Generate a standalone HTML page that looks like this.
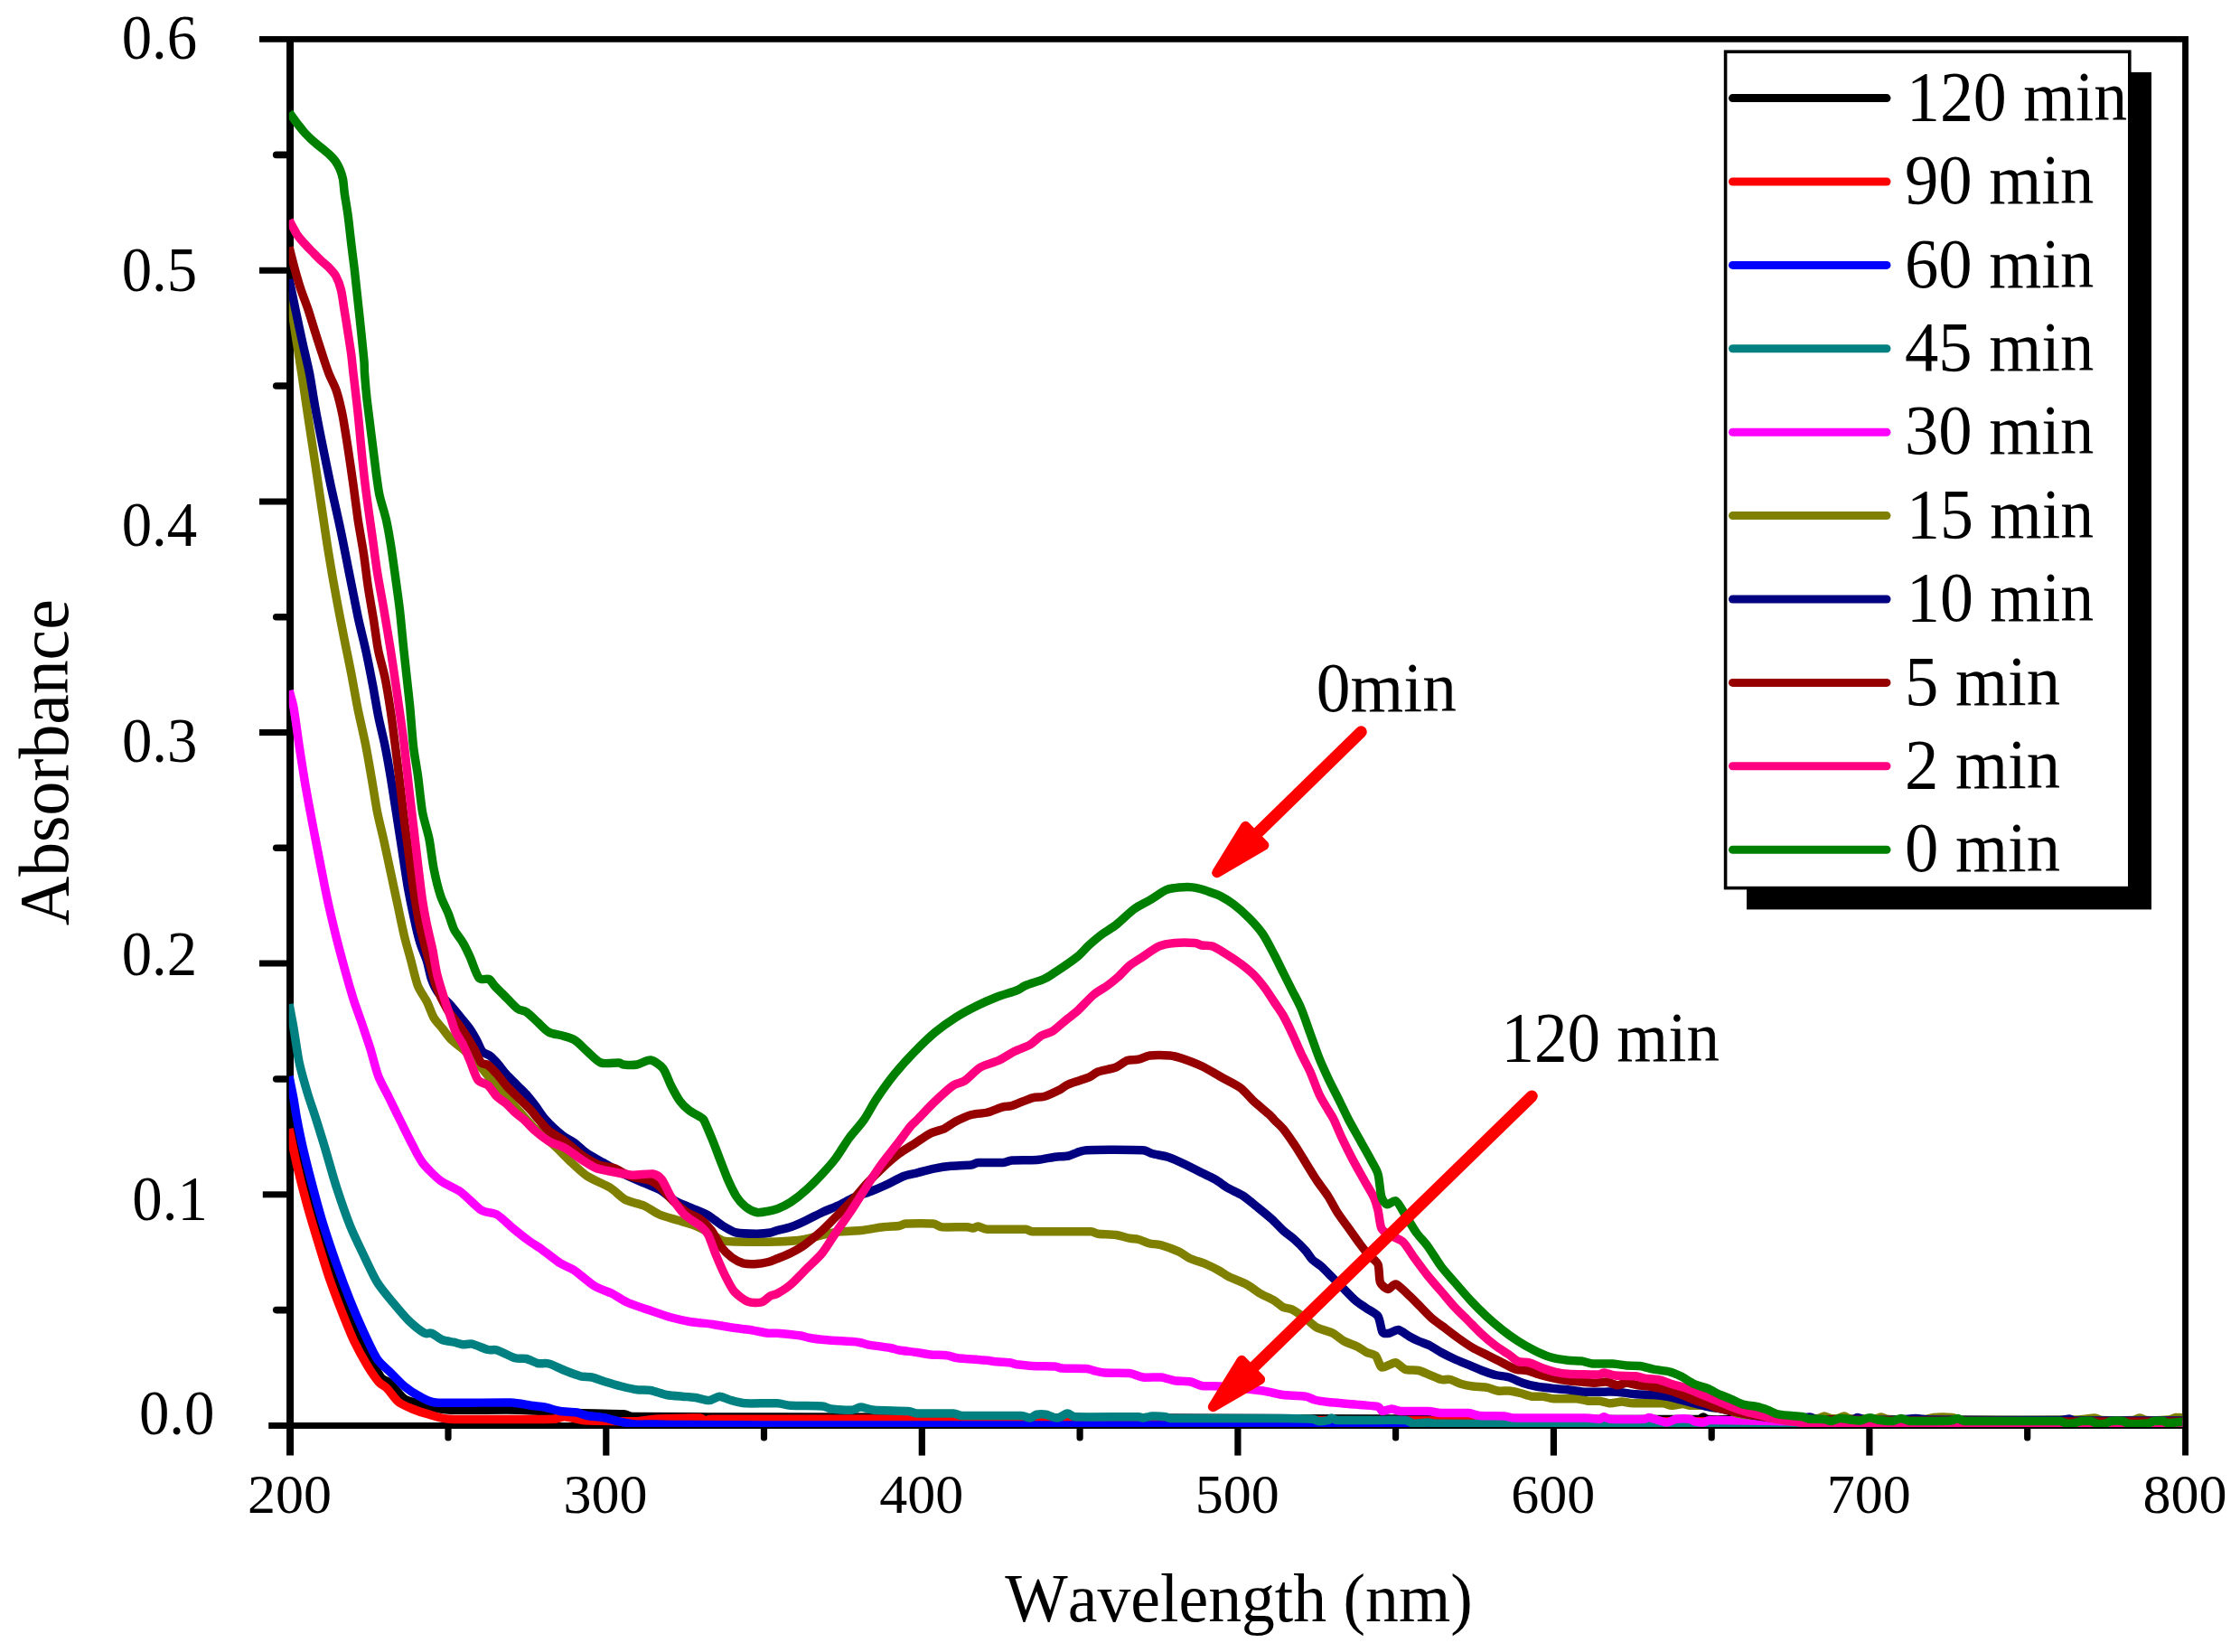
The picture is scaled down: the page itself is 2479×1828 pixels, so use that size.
<!DOCTYPE html>
<html lang="en"><head><meta charset="utf-8"><title>UV-Vis absorbance spectra</title>
<style>
html,body{margin:0;padding:0;background:#fff;}
body{width:2479px;height:1828px;overflow:hidden;}
svg{display:block;}
text{font-family:"Liberation Serif","Times New Roman",serif;fill:#000;font-kerning:none;}
.ax{stroke:#000;stroke-width:7.4;stroke-linecap:round;fill:none;}
.c{fill:none;stroke-width:9.5;stroke-linejoin:round;stroke-linecap:butt;}
.lg{fill:none;stroke-width:9;stroke-linecap:round;}
</style></head><body>
<svg width="2479" height="1828" viewBox="0 0 2479 1828">
<rect width="2479" height="1828" fill="#fff"/>
<g stroke="#000" fill="none">
<path stroke-width="8" d="M321.05 39.95 V1610.6"/>
<path stroke-width="6.9" d="M2418.55 39.95 V1610.6"/>
<path stroke-width="6.9" d="M287 43.4 H2422"/>
<path stroke-width="7.2" d="M297.2 1577.5 H2422"/>
<path stroke-width="7.6" stroke-linecap="round" d="M305.7 1449.6 H321"/>
<path stroke-width="7" d="M290.8 1321.8 H321"/>
<path stroke-width="7.6" stroke-linecap="round" d="M305.7 1194 H321"/>
<path stroke-width="7" d="M287 1066.1 H321"/>
<path stroke-width="7.6" stroke-linecap="round" d="M305.7 938.3 H321"/>
<path stroke-width="7" d="M287 810.5 H321"/>
<path stroke-width="7.6" stroke-linecap="round" d="M305.7 682.7 H321"/>
<path stroke-width="7" d="M287 554.9 H321"/>
<path stroke-width="7.6" stroke-linecap="round" d="M305.7 427 H321"/>
<path stroke-width="7" d="M287 299.2 H321"/>
<path stroke-width="7.6" stroke-linecap="round" d="M305.7 171.4 H321"/>
<path stroke-width="7.2" stroke-linecap="round" d="M496 1577.5 V1591"/>
<path stroke-width="7.2" d="M670.8 1577.5 V1610.6"/>
<path stroke-width="7.2" stroke-linecap="round" d="M845.5 1577.5 V1591"/>
<path stroke-width="7.2" d="M1020.3 1577.5 V1610.6"/>
<path stroke-width="7.2" stroke-linecap="round" d="M1195.1 1577.5 V1591"/>
<path stroke-width="7.2" d="M1369.9 1577.5 V1610.6"/>
<path stroke-width="7.2" stroke-linecap="round" d="M1544.6 1577.5 V1591"/>
<path stroke-width="7.2" d="M1719.4 1577.5 V1610.6"/>
<path stroke-width="7.2" stroke-linecap="round" d="M1894.2 1577.5 V1591"/>
<path stroke-width="7.2" d="M2068.9 1577.5 V1610.6"/>
<path stroke-width="7.2" stroke-linecap="round" d="M2243.7 1577.5 V1591"/>
</g>
<clipPath id="plotclip"><rect x="319.8" y="47" width="2095.4" height="1532.1"/></clipPath>
<g class="c" clip-path="url(#plotclip)">
<path stroke="#000000" d="M320 1243C321.9 1250 331 1283.4 334.5 1296.5C338 1309.6 343.4 1331.3 347 1344C350.6 1356.7 358.1 1382 362 1394C365.9 1406 373.1 1426.4 377 1436.5C380.9 1446.6 388.1 1463.4 392 1471.5C395.9 1479.6 403.2 1492.2 407 1499C410.8 1505.8 418.4 1519.9 421.5 1524C424.3 1527.6 427.6 1527.2 431 1530.2C434.4 1533.3 443.4 1544.8 447.5 1547.8C451.6 1550.7 458.3 1551.5 462.5 1552.8C466.7 1554 475.1 1556.8 480 1557.8C484.9 1558.7 491.9 1560 500 1560.2C512.4 1560.6 556.8 1559.8 575 1560.2C593.2 1560.7 625 1562.9 640 1563.5C655 1564.1 682.2 1564.2 690 1564.7C694.1 1565 695.8 1567.4 700 1567.5C722.1 1567.9 821 1567.9 860 1568C899 1568.1 944 1568.1 1000 1568.3C1070.2 1568.5 1327.2 1569.3 1400 1569.5C1464 1569.7 1538.5 1570.3 1560 1570C1562.3 1570 1563.7 1567.5 1565 1567C1566.3 1566.5 1568.7 1566.1 1570 1566.5C1571.3 1566.9 1572.6 1570 1575 1570C1615.3 1570.5 1839.7 1570.8 1880 1570.5C1882.2 1570.5 1883.7 1568 1885 1568C1886.3 1568 1887.8 1570.3 1890 1570.5C1893.5 1570.8 1908.5 1570.8 1912 1570.5C1914.2 1570.3 1915.7 1567.9 1917 1568C1918.3 1568.1 1919.7 1571 1922 1571C1987.1 1571.8 2352.7 1573.6 2418 1574C2420.4 1574 2423.2 1574 2424 1574"/>
<path stroke="#ff0000" d="M320 1249C321.1 1254.2 326 1278.3 328.5 1289C331 1299.7 336.3 1320.5 339.3 1331.5C342.3 1342.5 348.6 1363.3 351.8 1374C355.1 1384.7 360.7 1403.6 364.3 1414C367.9 1424.4 375.7 1444.9 379.3 1454C382.9 1463.1 388.2 1476.5 391.8 1484C395.4 1491.5 403.3 1505.7 406.8 1511.5C410.3 1517.3 416.2 1525.8 419 1529C421.8 1532.2 425.7 1533.6 428.5 1536.5C431.3 1539.4 437.1 1548.1 440.5 1551C443.9 1553.9 450.5 1556.6 455 1558.5C459.5 1560.4 469.5 1563.7 475 1565.2C480.5 1566.8 488.3 1569.9 497.5 1570.2C515.4 1570.9 595.9 1570.6 612.5 1570.2C617.6 1570.2 620.8 1567.6 625 1567.8C629.2 1567.9 639.8 1570.9 645 1571.5C650.2 1572.1 657.2 1572.1 665 1572.2C672.8 1572.4 697.2 1573 705 1572.8C712.8 1572.5 716.9 1570.7 725 1570.2C734.1 1569.8 767.9 1568.8 775 1569C777.2 1569.1 778.4 1571.3 780 1571.5C781.6 1571.7 784.5 1570.3 787.5 1570.2C797.9 1570.1 831 1570.2 860 1570.2C904.5 1570.2 1093.6 1569.9 1130 1570.2C1134.1 1570.3 1137.7 1573 1140 1573C1142.3 1573 1144.3 1570.5 1147.5 1570.5C1151.1 1570.5 1163.3 1572.9 1167.5 1573C1171.7 1573.1 1174.9 1571 1180 1571C1210.2 1570.8 1312 1571.3 1400 1571.5C1560.9 1571.9 2284.9 1573.7 2418 1574C2420.4 1574 2423.2 1574 2424 1574"/>
<path stroke="#0000ff" d="M320 1191C320.6 1194.2 323.9 1209.8 325 1216C326.1 1222.2 327.4 1232.1 328.8 1239C330.1 1245.9 332.9 1259.9 335 1269C337.1 1278.1 342.1 1298 345 1309C347.9 1320 353.9 1342.3 357.5 1354C361.1 1365.7 368.6 1388 372.5 1399C376.4 1410 383.6 1429.2 387.5 1439C391.4 1448.8 398.6 1465.5 402.5 1474C406.4 1482.5 413.6 1498.2 417.5 1504C421.4 1509.8 428.6 1515.1 432.5 1519C436.4 1522.9 443.6 1530.8 447.5 1534C451.4 1537.2 457.9 1541.7 462.5 1544C467.1 1546.3 473.9 1551.3 482.5 1552C495.8 1553 551.4 1551.6 565 1552C574.1 1552.3 582.6 1554.6 587.5 1555.2C592.4 1555.9 598.3 1556.2 602.5 1557C606.7 1557.8 615.5 1560.8 620 1561.5C624.5 1562.2 633.6 1562.1 637.5 1562.8C641.4 1563.4 646.1 1565.8 650 1566.5C653.9 1567.2 663 1567.7 667.5 1568.5C672 1569.3 680.5 1571.8 685 1572.8C689.5 1573.7 697.3 1575.6 702.5 1576C707.7 1576.4 718.8 1575.9 725 1576C731.2 1576.1 740 1576.4 750 1576.5C767.5 1576.6 816 1577 860 1577C964 1577.1 1347.5 1576.9 1550 1577C1752.5 1577.1 2304.4 1577.4 2418 1577.5C2420.4 1577.5 2423.2 1577.5 2424 1577.5"/>
<path stroke="#008080" d="M320 1111C320.6 1114.4 323.4 1128.5 324.9 1137C326.3 1145.5 329.3 1166.7 331.2 1176C333.2 1185.3 337.6 1200.3 340 1208.5C342.4 1216.7 347.4 1230.8 350 1239C352.6 1247.2 357.1 1261.8 360 1271.5C362.9 1281.2 368.9 1303 372.5 1314C376.1 1325 383.6 1346.8 387.5 1356.5C391.4 1366.2 398.6 1380.9 402.5 1389C406.4 1397.1 413.3 1412.2 417.5 1419C421.7 1425.8 430.4 1436 435 1441.5C439.6 1447 447.9 1457.1 452.5 1461.5C457.1 1465.9 466.8 1473.5 470 1475.2C472.6 1476.7 474.9 1474.3 477.5 1475.2C480.1 1476.2 486.8 1481.5 490 1482.8C493.2 1484 499.6 1484.6 502.5 1485.2C505.4 1485.9 509.9 1487.5 512.5 1487.8C515.1 1488 518.9 1486.5 522.5 1487.2C526.1 1488 536.4 1492.6 540 1493.5C543.6 1494.4 546.2 1492.8 550 1494C553.9 1495.2 565.8 1501.5 570 1502.8C574.2 1504 579.2 1502.8 582.5 1503.5C585.8 1504.2 591.8 1507.8 595 1508.5C598.2 1509.2 603.6 1508 607.5 1509C611.4 1510 620.5 1514.7 625 1516.5C629.5 1518.3 638.6 1521.8 642.5 1522.8C646.4 1523.7 651.4 1523.2 655 1524C658.6 1524.8 665.8 1527.7 670 1529C674.2 1530.3 683 1532.9 687.5 1534C692 1535.1 700.8 1537.2 705 1537.8C709.2 1538.3 715.8 1537.8 720 1538.5C724.2 1539.2 733 1542.6 737.5 1543.5C742 1544.4 750.8 1544.9 755 1545.2C759.2 1545.6 766.1 1545.9 770 1546.5C773.9 1547.1 781.6 1549.7 785 1549.5C788.4 1549.3 793.3 1545.3 796.2 1545.2C799.2 1545.2 803.8 1548 807.5 1549C811.2 1550 818.2 1552.3 825 1552.8C831.8 1553.2 853.5 1552.4 860 1552.8C866.1 1553.1 868.9 1554.9 875 1555.2C881.5 1555.7 904.1 1555.5 910 1556C914.2 1556.3 915.9 1558.5 920 1559C924.2 1559.6 938.3 1560.5 942.5 1560.2C946.7 1560 949.2 1557 952.5 1557C955.8 1557 961.4 1559.7 967.5 1560.2C974.3 1560.8 998.8 1561 1005 1561.5C1009.1 1561.8 1010.9 1563.8 1015 1564C1021.5 1564.3 1048.5 1563.7 1055 1564C1059.1 1564.2 1060.9 1566.4 1065 1566.5C1074.8 1566.8 1120.2 1566.2 1130 1566.5C1134.1 1566.6 1137.7 1569.2 1140 1569C1142.3 1568.8 1145.2 1565.7 1147.5 1565.2C1149.8 1564.8 1154.6 1564.8 1157.5 1565.2C1160.4 1565.7 1166.9 1569.2 1170 1569C1173.1 1568.8 1178.7 1564.2 1181.2 1564C1183.8 1563.8 1186.2 1567.6 1190 1567.8C1200.2 1568.2 1250.2 1567.6 1260 1567.8C1262.1 1567.8 1263 1569.1 1265 1569C1267 1568.9 1271.8 1567.2 1275 1567C1278.2 1566.8 1287.4 1567.4 1290 1567.8C1292.1 1568 1292.9 1569.5 1295 1569.5C1311.9 1569.7 1399.5 1569.4 1420 1569.5C1433 1569.6 1447.3 1569.8 1452.5 1570.2C1455.7 1570.5 1457.7 1572.6 1460 1572.8C1462.3 1572.9 1468.2 1572 1470 1571.5C1471.7 1571 1472.5 1569 1473.8 1569C1475 1569 1477.3 1571.4 1480 1571.5C1490.6 1571.8 1544 1571 1555 1571.5C1559.3 1571.7 1561.8 1574.9 1565 1575.2C1568.2 1575.6 1576.8 1574 1580 1574C1583.2 1574 1586 1575.2 1590 1575.2C1621.2 1575.5 1769.3 1575.8 1820 1576C1870.7 1576.2 1916 1576.4 1980 1576.5C2057.7 1576.6 2360.3 1576.9 2418 1577C2420.4 1577 2423.2 1577 2424 1577"/>
<path stroke="#ff00ff" d="M320 764C320.6 766.5 323.6 775.3 325 783C326.5 791.1 329.6 815.2 331.2 826C332.9 836.8 335.6 854.6 337.5 866C339.4 877.4 344 901.5 346.2 913.5C348.5 925.5 352.9 947.8 355 958.5C357.1 969.2 360.2 985.6 362.5 996C364.8 1006.4 369.9 1028.1 372.5 1038.5C375.1 1048.9 380.1 1067.2 382.5 1076C384.9 1084.8 389 1098.8 391.2 1106C393.5 1113.2 397.6 1123.8 400 1131C402.4 1138.2 407.6 1153.2 410 1161C412.4 1168.8 416.1 1184.2 418.8 1191C421.4 1197.8 426.9 1207.3 430 1213.5C433.1 1219.7 439.2 1232.4 442.5 1239C445.8 1245.6 451.8 1257.8 455 1264C458.2 1270.2 463.3 1281 467.5 1286.5C471.7 1292 482 1302.3 487.5 1306.5C493 1310.7 504.1 1314.8 510 1319C515.9 1323.2 527.3 1335.8 532.5 1339C537.7 1342.2 545.5 1341.4 550 1344C554.5 1346.6 563 1355.3 567.5 1359C572 1362.7 580.8 1369.7 585 1372.8C589.2 1375.8 595.5 1379.5 600 1382.8C604.5 1386 615.5 1394.8 620 1397.8C624.5 1400.7 630.1 1402 635 1405.2C639.9 1408.5 652 1419.3 657.5 1422.8C663 1426.2 672.6 1429.1 677.5 1431.5C682.4 1433.9 689.5 1439.1 695 1441.5C700.5 1443.9 713.8 1448.1 720 1450.2C726.2 1452.4 736.6 1456.1 742.5 1457.8C748.4 1459.4 759.1 1461.8 765 1462.8C770.9 1463.7 781.6 1464.4 787.5 1465.2C793.4 1466.1 804.5 1468.2 810 1469C815.5 1469.8 824.8 1470.7 830 1471.5C835.2 1472.3 846.1 1474.8 850 1475.2C853.9 1475.7 856 1475 860 1475.2C864.5 1475.6 880.5 1477.1 885 1477.8C889.1 1478.3 891.1 1479.6 895 1480.2C898.9 1480.9 907.9 1482.1 915 1482.8C922.1 1483.4 944.1 1484.6 950 1485.2C954.1 1485.7 955.9 1487 960 1487.8C964.5 1488.6 980.5 1490.7 985 1491.5C989.1 1492.2 991.1 1493.3 995 1494C998.9 1494.7 1010.5 1495.8 1015 1496.5C1019.5 1497.2 1025.8 1498.6 1030 1499C1034.2 1499.4 1043.6 1499.3 1047.5 1499.8C1051.4 1500.2 1054.9 1502.1 1060 1502.8C1065.8 1503.5 1087.3 1504.8 1092.5 1505.2C1095.5 1505.5 1097 1506.2 1100 1506.5C1103.2 1506.8 1114.2 1507.3 1117.5 1507.8C1120.6 1508.2 1121.9 1509.3 1125 1509.8C1128.2 1510.2 1137 1511.2 1142.5 1511.5C1148 1511.8 1163.3 1511.7 1167.5 1512C1170.6 1512.2 1171.9 1513.8 1175 1514C1179.5 1514.3 1198 1514.2 1202.5 1514.5C1205.6 1514.7 1207.4 1515.9 1210 1516.5C1212.6 1517.1 1217.4 1518.6 1222.5 1519C1227.7 1519.4 1244.5 1518.8 1250 1519.5C1255.5 1520.2 1260.5 1523.4 1265 1524C1269.5 1524.6 1280.5 1523.5 1285 1524C1289.5 1524.5 1295.8 1527.1 1300 1527.8C1304.2 1528.4 1313.6 1528.3 1317.5 1529C1321.4 1529.7 1325.8 1532.8 1330 1533.5C1334.2 1534.2 1342 1533.4 1350 1534C1358.8 1534.7 1389.7 1538 1397.5 1539C1402.6 1539.6 1407.1 1540.9 1410 1541.5C1412.9 1542.1 1415.9 1543.1 1420 1543.5C1424.5 1544 1440.5 1544.5 1445 1545.2C1449.2 1545.9 1451.8 1548.2 1455 1549C1458.2 1549.8 1464 1550.8 1470 1551.5C1476.5 1552.2 1497.8 1553.8 1505 1554.5C1512.2 1555.2 1521.8 1555.6 1525 1556.5C1527.7 1557.3 1528 1561.2 1530 1561.5C1532 1561.8 1537.4 1559 1540 1559C1542.6 1559 1545.9 1561.2 1550 1561.5C1555.2 1561.8 1574.2 1561.2 1580 1561.5C1585.8 1561.8 1589.2 1563.2 1595 1563.5C1600.8 1563.8 1619.5 1563.1 1625 1563.5C1630.1 1563.9 1632.4 1566.1 1637.5 1566.5C1642.7 1567 1660.1 1566.7 1665 1567C1669.1 1567.3 1670.9 1568.9 1675 1569C1686.7 1569.3 1742.7 1568.8 1755 1569C1761 1569.1 1767.4 1570.4 1770 1570.2C1772.2 1570.1 1773.4 1567.8 1775 1567.8C1776.6 1567.8 1779.3 1570.1 1782.5 1570.2C1788.3 1570.6 1814.5 1570.5 1820 1570.2C1822.1 1570.2 1823 1568.3 1825 1568.5C1827 1568.7 1832.4 1570.8 1835 1571.5C1837.6 1572.2 1842.4 1574.2 1845 1574C1847.6 1573.8 1851.8 1570.7 1855 1570.2C1858.2 1569.8 1867.4 1569.9 1870 1570.2C1872.2 1570.5 1873 1572.3 1875 1572.8C1877 1573.2 1882.7 1574.2 1885 1574C1887.3 1573.8 1889.3 1571.5 1892.5 1571.5C1904.8 1571.3 1964.7 1572.3 1980 1572.8C1992 1573.1 1998 1574.9 2010 1575C2066.9 1575.4 2364.2 1575.9 2418 1576C2420.4 1576 2423.2 1576 2424 1576"/>
<path stroke="#808000" d="M320 323C321 329.5 325.7 361.3 327.5 373C329.3 384.7 332 401.3 333.8 413C335.5 424.7 339.3 450 341.2 463C343.2 476 346.8 500 348.8 513C350.7 526 354.3 550 356.2 563C358.2 576 361.6 600 363.8 613C365.9 626 370.2 650.6 372.5 663C374.8 675.4 379.1 697.3 381.2 708C383.4 718.7 386.8 735.4 388.8 745.5C390.7 755.6 394.1 775 396.2 785.5C398.4 796 403.1 816.2 405 826C406.9 835.8 409.6 851.6 411.2 861C412.9 870.4 415.7 889.4 417.5 898.5C419.3 907.6 423.1 922.2 425 931C426.9 939.8 430.6 956.9 432.5 966C434.4 975.1 438.1 991.9 440 1001C441.9 1010.1 445.6 1027.9 447.5 1036C449.4 1044.1 453.1 1056.3 455 1063.5C456.9 1070.7 460.2 1085.2 462.5 1091C464.8 1096.8 470.2 1104 472.5 1108.5C474.8 1113 477.7 1122.1 480 1126C482.3 1129.9 487.4 1135.2 490 1138.5C492.6 1141.8 497.1 1148.1 500 1151C502.9 1153.9 508.3 1157.1 512.5 1161C516.7 1164.9 528.3 1176.3 532.5 1181C536.7 1185.7 541.4 1192.8 545 1197C548.6 1201.2 556.1 1208.7 560 1213C563.9 1217.3 571.1 1225.6 575 1230C578.9 1234.4 586.5 1243.4 590 1247C593.5 1250.6 598.8 1255.1 602 1258C605.2 1260.9 611.4 1265.6 615 1269C618.6 1272.4 625.5 1279.8 630 1284C634.5 1288.2 644.1 1297.6 650 1301.5C655.9 1305.4 669.5 1310.6 675 1314C680.5 1317.4 687.6 1325.2 692.5 1327.8C697.4 1330.3 707.6 1331.9 712.5 1334C717.4 1336.1 725.1 1341.9 730 1344C734.9 1346.1 744.8 1348.6 750 1350.2C755.2 1351.9 765.5 1354.7 770 1356.5C774.5 1358.3 781.1 1361.9 785 1364C788.9 1366.1 796.1 1371.5 800 1372.8C803.9 1374 809 1373.9 815 1374C822.8 1374.2 850.2 1374.3 860 1374C869.8 1373.7 883.5 1372.5 890 1371.5C896.5 1370.5 904.8 1367.6 910 1366.5C915.2 1365.4 924.5 1363.4 930 1362.8C935.5 1362.1 946.3 1362.2 952.5 1361.5C958.7 1360.8 972 1358.4 977.5 1357.8C983 1357.1 991.8 1357 995 1356.5C998.1 1356 999.3 1354.2 1002.5 1354C1007.4 1353.7 1027.3 1353.5 1032.5 1354C1036.8 1354.4 1038.2 1357.3 1042.5 1357.8C1047.4 1358.2 1065.5 1357.6 1070 1357.8C1073 1357.9 1075.9 1359.1 1077.5 1359C1079.1 1358.9 1080.5 1356.8 1082.5 1357C1084.5 1357.2 1088.3 1360 1092.5 1360.2C1099.3 1360.7 1128.5 1359.9 1135 1360.2C1138.2 1360.4 1139.3 1362.6 1142.5 1362.8C1151.9 1363.1 1198.1 1362.4 1207.5 1362.8C1210.7 1362.9 1211.9 1364.8 1215 1365.2C1218.6 1365.7 1230.5 1365.8 1235 1366.5C1239.5 1367.2 1246.8 1369.6 1250 1370.2C1253.2 1370.9 1257.1 1370.8 1260 1371.5C1262.9 1372.2 1269.2 1375.2 1272.5 1376C1275.8 1376.8 1280.8 1376.5 1285 1377.8C1289.2 1379 1300.8 1383.3 1305 1385.2C1309.2 1387.2 1313.6 1391 1317.5 1392.8C1321.4 1394.5 1330.8 1397.2 1335 1399C1339.2 1400.8 1346.8 1404.7 1350 1406.5C1353.2 1408.3 1356.1 1410.8 1360 1412.8C1363.9 1414.7 1375.5 1419.1 1380 1421.5C1384.5 1423.9 1391.1 1429.2 1395 1431.5C1398.9 1433.8 1406.8 1437 1410 1439C1413.2 1441 1417.4 1445.2 1420 1446.5C1422.6 1447.8 1426.8 1447.4 1430 1449C1433.2 1450.6 1441.4 1456.4 1445 1459C1448.6 1461.6 1453.6 1466.9 1457.5 1469C1461.4 1471.1 1471.1 1473.3 1475 1475.2C1478.9 1477.2 1483.9 1482 1487.5 1484C1491.1 1486 1499.2 1488.6 1502.5 1490.2C1505.8 1491.9 1509.9 1495.2 1512.5 1496.5C1515.1 1497.8 1520.4 1498.1 1522.5 1500.2C1524.6 1502.4 1526.8 1511.5 1528.8 1512.8C1530.7 1514 1535.4 1510.9 1537.5 1510.2C1539.6 1509.6 1542.7 1507.1 1545 1507.8C1547.3 1508.4 1551.8 1514.1 1555 1515.2C1558.2 1516.4 1566.4 1515.7 1570 1516.5C1573.6 1517.3 1579.2 1520.2 1582.5 1521.5C1585.8 1522.8 1592.1 1525.8 1595 1526.5C1597.9 1527.2 1602.1 1525.8 1605 1526.5C1607.9 1527.2 1614.2 1530.5 1617.5 1531.5C1620.8 1532.5 1626.4 1533.5 1630 1534C1633.6 1534.5 1641.4 1534.6 1645 1535.2C1648.6 1535.9 1654.2 1538.5 1657.5 1539C1660.8 1539.5 1666.8 1538.7 1670 1539C1673.2 1539.3 1679.2 1540.7 1682.5 1541.5C1685.8 1542.3 1691.8 1544.8 1695 1545.2C1698.2 1545.7 1704.2 1544.9 1707.5 1545.2C1710.8 1545.6 1715.1 1547.4 1720 1547.8C1724.9 1548.1 1740.1 1547.4 1745 1547.8C1749.9 1548.1 1754.2 1549.9 1757.5 1550.2C1760.8 1550.6 1766.8 1549.9 1770 1550.2C1773.2 1550.6 1779.2 1552.7 1782.5 1552.8C1785.8 1552.8 1791.8 1551 1795 1551C1798.2 1551 1802.5 1552.6 1807.5 1552.8C1813.3 1553 1834.5 1552.4 1840 1552.8C1844.1 1553 1847.1 1555.2 1850 1555.2C1852.9 1555.3 1859.9 1553.5 1862.5 1553.5C1865.1 1553.5 1866.9 1555 1870 1555.2C1873.2 1555.5 1884.2 1554.9 1887.5 1555.2C1890.6 1555.6 1892.1 1557.3 1895 1557.8C1897.9 1558.2 1906.4 1557.7 1910 1558.5C1913.6 1559.3 1917.3 1562.9 1922.5 1564C1927.7 1565.1 1942.5 1566.3 1950 1567C1957.5 1567.7 1971.9 1568.7 1980 1569C1988.1 1569.3 2006.9 1569.8 2012 1569.5C2015 1569.3 2017.2 1567 2019 1567C2020.8 1567 2024 1569.2 2026 1569.5C2028 1569.8 2032 1569.8 2034 1569.5C2036 1569.2 2039.2 1566.9 2041 1567C2042.8 1567.1 2045 1569.7 2048 1570C2052.4 1570.4 2070.6 1570.3 2075 1570C2077.9 1569.8 2080.1 1567.9 2082 1568C2083.9 1568.1 2086.7 1570.3 2090 1570.5C2096.2 1570.8 2123.5 1570.8 2130 1570.5C2134.1 1570.3 2136.1 1568.8 2140 1568.5C2143.9 1568.2 2156.1 1568.2 2160 1568.5C2163.9 1568.8 2165.9 1570.9 2170 1571C2188.2 1571.3 2280.8 1571.3 2300 1571C2307.2 1570.9 2314.6 1568.9 2318 1569C2321.4 1569.1 2322.7 1571.3 2326 1571.5C2331.5 1571.8 2354.5 1571.8 2360 1571.5C2363.3 1571.3 2365.9 1569 2368 1569C2370.1 1569 2372.7 1571.3 2376 1571.5C2380.2 1571.8 2395.8 1571.4 2400 1571C2403.3 1570.7 2405.7 1568.8 2408 1568.5C2410.3 1568.2 2415.9 1568.9 2418 1569C2420.1 1569.1 2423.2 1569 2424 1569"/>
<path stroke="#000080" d="M320 309C321 313.7 325.6 335.8 327.5 345C329.4 354.2 333.1 371.2 335 380C336.9 388.8 340.7 403.8 342.5 413C344.3 422.2 346.8 439.8 348.8 450.5C350.7 461.2 355.2 484.1 357.5 495.5C359.8 506.9 363.8 526.6 366.2 538C368.7 549.4 373.6 570.6 376.2 583C378.9 595.4 383.6 620 386.2 633C388.9 646 393.8 671.6 396.2 683C398.7 694.4 402.9 710.8 405 720.5C407.1 730.2 410.7 748.6 412.5 758C414.3 767.4 417 784.2 418.8 793C420.5 801.8 424.5 817.2 426.2 826C428 834.8 430.9 851.2 432.5 861C434.1 870.8 437.1 890.6 438.8 901C440.4 911.4 443.4 930.6 445 941C446.6 951.4 449.5 970.9 451.2 981C453 991.1 457 1010.4 458.8 1018.5C460.5 1026.6 463.2 1037.7 465 1043.5C466.8 1049.3 470.9 1058.3 472.5 1063.5C474.1 1068.7 475.9 1079 477.5 1083.5C479.1 1088 482.4 1094.9 485 1098.5C487.6 1102.1 494.2 1107.4 497.5 1111C500.8 1114.6 507.1 1122.4 510 1126C512.9 1129.6 517.7 1135.2 520 1138.5C522.3 1141.8 525.7 1147.8 527.5 1151C529.3 1154.2 531.8 1161.2 533.8 1163.5C535.7 1165.8 540.4 1166.9 542.5 1168.5C544.6 1170.1 547.7 1173.4 550 1176C552.3 1178.6 557.1 1185.2 560 1188.5C562.9 1191.8 569.6 1198.1 572.5 1201C575.4 1203.9 579.9 1208.1 582.5 1211C585.1 1213.9 589.7 1219.9 592.5 1223.5C595.3 1227.1 599.9 1234.7 603.8 1239C607.6 1243.3 618.4 1253.2 622.5 1256.5C626.6 1259.8 631.4 1261.4 635 1264C638.6 1266.6 645.8 1273.6 650 1276.5C654.2 1279.4 662.3 1283.6 667.5 1286.5C672.7 1289.4 684.1 1296.1 690 1299C695.9 1301.9 707.3 1306.7 712.5 1309C717.7 1311.3 725.5 1313.9 730 1316.5C734.5 1319.1 743 1326.4 747.5 1329C752 1331.6 760.5 1334.5 765 1336.5C769.5 1338.5 778 1341.4 782.5 1344C787 1346.6 795.8 1353.9 800 1356.5C804.2 1359.1 810.1 1362.9 815 1364C819.9 1365.1 832.6 1365.2 837.5 1365.2C842.4 1365.2 849.6 1364.5 852.5 1364C855.4 1363.5 857.1 1362.3 860 1361.5C862.9 1360.7 870.8 1359.2 875 1357.8C879.2 1356.3 888 1352.4 892.5 1350.2C897 1348.1 905.5 1343.6 910 1341.5C914.5 1339.4 923 1336.1 927.5 1334C932 1331.9 940.1 1327.4 945 1325.2C949.9 1323.1 960.1 1319.7 965 1317.8C969.9 1315.8 978 1312.4 982.5 1310.2C987 1308.1 995.8 1303.1 1000 1301.5C1004.2 1299.9 1010.5 1298.9 1015 1297.8C1019.5 1296.6 1030.1 1293.7 1035 1292.8C1039.9 1291.8 1047.3 1290.7 1052.5 1290.2C1057.7 1289.8 1071.1 1289.5 1075 1289C1078.1 1288.6 1079.3 1286.7 1082.5 1286.5C1087 1286.2 1105.1 1286.8 1110 1286.5C1114.1 1286.2 1115.9 1284.3 1120 1284C1124.9 1283.6 1141.3 1284 1147.5 1283.5C1153.7 1283 1163 1280.8 1167.5 1280.2C1172 1279.7 1178 1280 1182.5 1279C1187 1278 1194.1 1273.4 1202.5 1272.8C1213.2 1271.9 1255.6 1272.3 1265 1272.8C1269.3 1273 1271.4 1275.5 1275 1276.5C1278.6 1277.5 1288 1278.8 1292.5 1280.2C1297 1281.7 1305.5 1285.6 1310 1287.8C1314.5 1289.9 1323 1294.2 1327.5 1296.5C1332 1298.8 1340.8 1302.8 1345 1305.2C1349.2 1307.7 1356.1 1313 1360 1315.2C1363.9 1317.5 1370.8 1320 1375 1322.8C1379.2 1325.5 1388.3 1333.1 1392.5 1336.5C1396.7 1339.9 1403.9 1345.8 1407.5 1349C1411.1 1352.2 1416.8 1358.6 1420 1361.5C1423.2 1364.4 1429.2 1368.6 1432.5 1371.5C1435.8 1374.4 1442.4 1381.1 1445 1384C1447.6 1386.9 1450.2 1391.7 1452.5 1394C1454.8 1396.3 1459.6 1398.9 1462.5 1401.5C1465.4 1404.1 1471.8 1410.8 1475 1414C1478.2 1417.2 1484.2 1423.2 1487.5 1426.5C1490.8 1429.8 1496.8 1436.2 1500 1439C1503.2 1441.8 1509.2 1445.5 1512.5 1447.8C1515.8 1450 1522.7 1453.1 1525 1456.5C1527.3 1459.9 1528.4 1471.6 1530 1474C1531.6 1476.4 1535.2 1475.6 1537.5 1475.2C1539.8 1474.9 1544.6 1471 1547.5 1471.5C1550.4 1472 1557.1 1477.4 1560 1479C1562.9 1480.6 1567.1 1482.7 1570 1484C1572.9 1485.3 1579.2 1487.4 1582.5 1489C1585.8 1490.6 1591.4 1494.5 1595 1496.5C1598.6 1498.5 1606.1 1502.2 1610 1504C1613.9 1505.8 1621.1 1508.6 1625 1510.2C1628.9 1511.9 1636.1 1515 1640 1516.5C1643.9 1518 1651.1 1520.5 1655 1521.5C1658.9 1522.5 1666.1 1522.9 1670 1524C1673.9 1525.1 1681.1 1529 1685 1530.2C1688.9 1531.5 1695.5 1533.2 1700 1534C1704.5 1534.8 1715.5 1536 1720 1536.5C1724.5 1537 1730.5 1537.3 1735 1537.8C1739.5 1538.2 1750.5 1539.9 1755 1540.2C1759.5 1540.6 1765.5 1540.2 1770 1540.2C1774.5 1540.2 1784.8 1539.9 1790 1540.2C1795.2 1540.6 1804.8 1542.3 1810 1542.8C1815.2 1543.2 1825.5 1543.2 1830 1543.5C1834.5 1543.8 1841.1 1544.5 1845 1545.2C1848.9 1546 1856.1 1548 1860 1549C1863.9 1550 1871.1 1551.8 1875 1552.8C1878.9 1553.7 1886.1 1555.7 1890 1556.5C1893.9 1557.3 1899 1557.9 1905 1559C1911.5 1560.2 1930.2 1564.5 1940 1566C1949.8 1567.5 1971.8 1570.2 1980 1570.5C1988.2 1570.8 1999.1 1568 2003 1568C2006 1568 2007 1570.3 2010 1570.5C2016.1 1570.8 2044 1570.8 2050 1570.5C2052.5 1570.4 2054.2 1568.4 2056 1568.5C2057.8 1568.6 2060.7 1570.8 2064 1571C2069.7 1571.3 2092.7 1571.2 2100 1571C2107.3 1570.8 2115.4 1569.5 2120 1569.5C2124.6 1569.5 2129 1570.9 2135 1571C2155.8 1571.3 2259.8 1571.6 2280 1571.5C2284 1571.5 2287.9 1569.9 2290 1570C2292.1 1570.1 2293.5 1572 2296 1572C2312.6 1572.3 2401.4 1572 2418 1572C2420.4 1572 2423.2 1572 2424 1572"/>
<path stroke="#960000" d="M320 273.5C320.7 276.3 323.9 289.1 325.5 295C327.1 300.9 330.5 312.8 332.5 319C334.5 325.2 338.9 336.2 341 342.5C343.1 348.8 346.8 361.3 348.8 367.5C350.7 373.7 354.1 384.1 356 390C357.9 395.9 361.6 407.4 363.8 413C365.9 418.6 370.6 427.1 372.5 433C374.4 438.9 377.1 449.9 378.8 458C380.4 466.1 383.4 485.1 385 495.5C386.6 505.9 389.8 527.6 391.2 538C392.7 548.4 394.8 565.8 396.2 575.5C397.7 585.2 401 603.2 402.5 613C404 622.8 406 640.8 407.5 650.5C409 660.2 412.3 678.9 413.8 688C415.2 697.1 417.1 712.4 418.8 720.5C420.4 728.6 424.5 741.7 426.2 750.5C428 759.3 431 778.2 432.5 788C434 797.8 436.2 815.9 437.5 826C438.8 836.1 441.2 855.3 442.5 866C443.8 876.7 446.2 898.1 447.5 908.5C448.8 918.9 451.2 936.2 452.5 946C453.8 955.8 456 973.8 457.5 983.5C459 993.2 462.1 1012.9 463.8 1021C465.4 1029.1 468.4 1039.8 470 1046C471.6 1052.2 474.6 1062.7 476.2 1068.5C477.9 1074.3 480.1 1084.7 482.5 1091C484.9 1097.3 491.8 1111.5 495 1117C498.2 1122.5 504.6 1129.4 507.5 1133.5C510.4 1137.6 515.2 1144.9 517.5 1148.5C519.8 1152.1 523 1157.4 525 1161C527 1164.6 530.5 1173.7 532.5 1176C534.5 1178.3 537.7 1176.9 540 1178.5C542.3 1180.1 547.4 1185.6 550 1188.5C552.6 1191.4 556.8 1197.4 560 1201C563.2 1204.6 571.4 1212.4 575 1216C578.6 1219.6 584.7 1225.5 587.5 1228.5C590.3 1231.5 593.6 1236 596.2 1239C598.9 1242 603.8 1248.4 607.5 1251.5C611.2 1254.6 620.1 1259.2 625 1262.8C629.9 1266.3 640.1 1275.6 645 1279C649.9 1282.4 658 1287.2 662.5 1289C667 1290.8 675.5 1291.1 680 1292.8C684.5 1294.4 692.3 1299.7 697.5 1301.5C702.7 1303.3 715.8 1305 720 1306.5C724.2 1308 726.8 1309.8 730 1312.8C733.2 1315.7 741.1 1325.3 745 1329C748.9 1332.7 756.1 1338.9 760 1341.5C763.9 1344.1 771.4 1346.4 775 1349C778.6 1351.6 784.6 1357.6 787.5 1361.5C790.4 1365.4 794.6 1375.1 797.5 1379C800.4 1382.9 806.8 1389.1 810 1391.5C813.2 1393.9 818.9 1396.8 822.5 1397.8C826.1 1398.7 833.9 1398.7 837.5 1398.5C841.1 1398.3 847.1 1397.2 850 1396.5C852.9 1395.8 856.8 1394 860 1392.8C863.2 1391.5 871.1 1388.5 875 1386.5C878.9 1384.5 885.5 1381 890 1377.8C894.5 1374.5 905.5 1365.6 910 1361.5C914.5 1357.4 920.8 1350.7 925 1346.5C929.2 1342.3 938 1333.9 942.5 1329C947 1324.1 955.5 1313.9 960 1309C964.5 1304.1 973 1295.7 977.5 1291.5C982 1287.3 990.5 1279.9 995 1276.5C999.5 1273.1 1008 1268.2 1012.5 1265.2C1017 1262.3 1025.8 1256.1 1030 1254C1034.2 1251.9 1041.4 1250.7 1045 1249C1048.6 1247.3 1053.6 1243 1057.5 1241C1061.4 1239 1070.5 1234.8 1075 1233.5C1079.5 1232.2 1088 1232.1 1092.5 1231C1097 1229.9 1106.4 1225.7 1110 1224.8C1113.6 1223.8 1116.1 1224.7 1120 1223.5C1124.2 1222.2 1138 1216 1142.5 1214.8C1147 1213.5 1151.1 1214.6 1155 1213.5C1158.9 1212.4 1168.9 1207.8 1172.5 1206C1176.1 1204.2 1178.3 1201.5 1182.5 1199.8C1186.7 1198 1200.8 1194 1205 1192.2C1209.2 1190.5 1211.1 1187.5 1215 1186C1218.9 1184.5 1230.8 1182.6 1235 1181C1239.2 1179.4 1244.2 1174.6 1247.5 1173.5C1250.8 1172.4 1256.8 1173 1260 1172.2C1263.2 1171.5 1268 1168.6 1272.5 1168C1277 1167.4 1290.5 1167.6 1295 1168C1299.5 1168.4 1303 1169.5 1307.5 1171C1312 1172.5 1324.5 1177.2 1330 1179.8C1335.5 1182.3 1344.5 1187.9 1350 1191C1355.5 1194.1 1367.6 1199.9 1372.5 1203.5C1377.4 1207.1 1383.3 1214.6 1387.5 1218.5C1391.7 1222.4 1401.9 1230.7 1405 1233.5C1407.6 1235.9 1409 1238 1411 1240C1413 1242 1417.2 1245.6 1420 1249C1422.8 1252.4 1429.2 1261.6 1432.5 1266.5C1435.8 1271.4 1441.8 1281.3 1445 1286.5C1448.2 1291.7 1454.2 1301.6 1457.5 1306.5C1460.8 1311.4 1467.1 1319.5 1470 1324C1472.9 1328.5 1477.1 1337 1480 1341.5C1482.9 1346 1489.2 1354.5 1492.5 1359C1495.8 1363.5 1502.1 1372.6 1505 1376.5C1507.9 1380.4 1512.4 1386.1 1515 1389C1517.6 1391.9 1523.4 1395.1 1525 1399C1526.6 1402.9 1526 1415.4 1527.5 1419C1529 1422.6 1534 1426.2 1536.2 1426.5C1538.5 1426.8 1541.9 1420 1545 1421C1548.1 1422 1556.4 1430.7 1560 1434C1563.6 1437.3 1569.2 1443.2 1572.5 1446.5C1575.8 1449.8 1581.4 1455.9 1585 1459C1588.6 1462.1 1596.1 1467.3 1600 1470.2C1603.9 1473.2 1611.1 1478.7 1615 1481.5C1618.9 1484.3 1626.1 1489.2 1630 1491.5C1633.9 1493.8 1641.1 1497 1645 1499C1648.9 1501 1655.8 1504.4 1660 1506.5C1664.2 1508.6 1673.6 1514 1677.5 1515.2C1681.4 1516.5 1686.4 1515.7 1690 1516.5C1693.6 1517.3 1701.1 1520.4 1705 1521.5C1708.9 1522.6 1716.1 1524.4 1720 1525.2C1723.9 1526.1 1731.1 1527.3 1735 1527.8C1738.9 1528.2 1746.1 1528.7 1750 1529C1753.9 1529.3 1761.4 1530.2 1765 1530.2C1768.6 1530.2 1774.2 1528.7 1777.5 1529C1780.8 1529.3 1787.1 1532.6 1790 1532.8C1792.9 1532.9 1797.1 1530.2 1800 1530.2C1802.9 1530.2 1809.2 1532.3 1812.5 1532.8C1815.8 1533.2 1820.8 1533.3 1825 1534C1829.2 1534.7 1840.5 1536.6 1845 1537.8C1849.5 1538.9 1856.1 1541.3 1860 1542.8C1863.9 1544.2 1871.1 1547.5 1875 1549C1878.9 1550.5 1886.1 1552.7 1890 1554C1893.9 1555.3 1899.2 1557.6 1905 1559C1910.8 1560.4 1925.2 1563.4 1935 1565C1944.8 1566.6 1967.7 1570.2 1980 1571C1992.3 1571.8 2014.4 1570.9 2030 1571C2045.6 1571.1 2077.9 1571.8 2100 1572C2122.1 1572.2 2174 1572.4 2200 1572.5C2226 1572.6 2271.7 1572.9 2300 1573C2328.3 1573.1 2401.9 1573 2418 1573C2420.4 1573 2423.2 1573 2424 1573"/>
<path stroke="#ff0080" d="M320 243.5C320.5 244.5 322.8 248.9 324 251C325.2 253.1 327.4 257.7 329 260C330.6 262.3 333.9 266.2 336 268.5C338.1 270.8 342.5 275.5 345 278C347.5 280.5 352.5 285.7 355 288C357.5 290.3 361.9 293.8 364 296C366.1 298.2 369.7 301.8 371.5 305C373.3 308.2 376.3 316.1 377.5 321C378.7 325.9 380 336.5 381 342.5C382 348.5 384 361 385 367.5C386 374 388 386.6 388.8 392.5C389.5 398.4 390.1 404.8 391 413C392 421.5 395.1 446.9 396.2 458C397.4 469.1 398.9 486.9 400 498C401.1 509.1 403.5 531.3 405 543C406.5 554.7 409.6 576.3 411.2 588C412.9 599.7 415.7 621.6 417.5 633C419.3 644.4 423.1 664.1 425 675.5C426.9 686.9 430.7 709.1 432.5 720.5C434.3 731.9 437.3 752.9 438.8 763C440.2 773.1 442.6 789.8 443.8 798C444.9 806.2 446.4 816.5 447.5 826C448.6 835.5 451.2 859.6 452.5 871C453.8 882.4 456.2 902.5 457.5 913.5C458.8 924.5 461.2 945.3 462.5 956C463.8 966.7 466.2 987.2 467.5 996C468.8 1004.8 471 1016.4 472.5 1023.5C474 1030.7 477.3 1043.8 478.8 1051C480.2 1058.2 482.1 1071.7 483.8 1078.5C485.4 1085.3 489.3 1097.3 491.2 1103.5C493.2 1109.7 497.1 1121.1 498.8 1126C500.4 1130.9 502 1137.1 503.8 1141C505.5 1144.9 510.4 1151.8 512.5 1156C514.6 1160.2 517.9 1168.5 520 1173.5C522.1 1178.5 526.1 1191.2 528.8 1194.8C531.4 1198.3 537.2 1198.6 540 1201C542.8 1203.4 547.4 1210.9 550 1213.5C552.6 1216.1 557.4 1218.7 560 1221C562.6 1223.3 567.4 1228.7 570 1231C572.6 1233.3 577.1 1236.3 580 1239C582.9 1241.7 588.9 1248.4 592.5 1251.5C596.1 1254.6 603.3 1260.3 607.5 1262.8C611.7 1265.2 620.1 1267.5 625 1270.2C629.9 1273 640.5 1281.1 645 1284C649.5 1286.9 655.5 1291.1 660 1292.8C664.5 1294.4 674.8 1296 680 1297C685.2 1298 694.5 1300 700 1300.2C705.5 1300.5 718.3 1298.3 722.5 1299C726.7 1299.7 729.9 1302 732.5 1305.2C735.1 1308.5 739.2 1319 742.5 1324C745.8 1329 753.3 1339.8 757.5 1344C761.7 1348.2 771.6 1353.6 775 1356.5C778.4 1359.4 781.5 1362.3 783.8 1366.5C786 1370.7 790.1 1383.2 792.5 1389C794.9 1394.8 799.9 1406.3 802.5 1411.5C805.1 1416.7 809.2 1425.3 812.5 1429C815.8 1432.7 823.6 1438.7 827.5 1440.2C831.4 1441.8 839.2 1441.8 842.5 1441C845.8 1440.2 850.2 1435.2 852.5 1434C854.8 1432.8 857.2 1433 860 1431.5C862.9 1429.9 870.8 1425.1 875 1421.5C879.2 1417.9 888 1408.5 892.5 1404C897 1399.5 905.8 1391.7 910 1386.5C914.2 1381.3 920.8 1370.2 925 1364C929.2 1357.8 938 1345.8 942.5 1339C947 1332.2 955.8 1318 960 1311.5C964.2 1305 970.8 1294.8 975 1289C979.2 1283.2 988.3 1272 992.5 1266.5C996.7 1261 1004.6 1250.1 1007.5 1246.5C1010.2 1243.2 1012 1242 1015 1239C1018.6 1235.4 1029.8 1223.4 1035 1218.5C1040.2 1213.6 1050.8 1203.9 1055 1201C1059.2 1198.1 1063.6 1198.6 1067.5 1196C1071.4 1193.4 1080.1 1183.9 1085 1181C1089.9 1178.1 1100.1 1175.8 1105 1173.5C1109.9 1171.2 1118 1165.8 1122.5 1163.5C1127 1161.2 1136.1 1158.3 1140 1156C1143.9 1153.7 1149.2 1148 1152.5 1146C1155.8 1144 1161.4 1143.3 1165 1141C1168.6 1138.7 1176.4 1131.4 1180 1128.5C1183.6 1125.6 1188.6 1122.1 1192.5 1118.5C1196.4 1114.9 1205.8 1104.6 1210 1101C1214.2 1097.4 1221.4 1093.6 1225 1091C1228.6 1088.4 1234.2 1083.9 1237.5 1081C1240.8 1078.1 1246.4 1071.4 1250 1068.5C1253.6 1065.6 1260.8 1061.3 1265 1058.5C1269.2 1055.7 1278 1049.2 1282.5 1047.2C1287 1045.3 1294.8 1044 1300 1043.5C1305.2 1043 1318.6 1043.2 1322.5 1043.5C1325.7 1043.8 1327.4 1045.5 1330 1046C1332.6 1046.5 1338.9 1046 1342.5 1047.2C1346.1 1048.5 1353.6 1053.6 1357.5 1056C1361.4 1058.4 1368.6 1063.1 1372.5 1066C1376.4 1068.9 1383.9 1074.9 1387.5 1078.5C1391.1 1082.1 1397.1 1089.6 1400 1093.5C1402.9 1097.4 1407.4 1104.6 1410 1108.5C1412.6 1112.4 1417.4 1119 1420 1123.5C1422.6 1128 1427.4 1138 1430 1143.5C1432.6 1149 1437.4 1160.5 1440 1166C1442.6 1171.5 1447.4 1180.2 1450 1186C1452.6 1191.8 1457.4 1205.5 1460 1211C1462.6 1216.5 1467.9 1224.9 1470 1228.5C1472.1 1232.1 1474.3 1235 1476.2 1239C1478.2 1243 1482.2 1253.2 1485 1259C1487.8 1264.8 1494.2 1277.8 1497.5 1284C1500.8 1290.2 1507.1 1301.3 1510 1306.5C1512.9 1311.7 1518 1319.8 1520 1324C1522 1328.2 1523.9 1334.5 1525 1339C1526.1 1343.5 1527.1 1355.4 1528.8 1359C1530.4 1362.6 1534.4 1364.5 1537.5 1366.5C1540.6 1368.5 1548.9 1370.8 1552.5 1374C1556.1 1377.2 1561.4 1386.6 1565 1391.5C1568.6 1396.4 1576.1 1406.6 1580 1411.5C1583.9 1416.4 1591.1 1424.5 1595 1429C1598.9 1433.5 1606.1 1442.3 1610 1446.5C1613.9 1450.7 1621.1 1457.6 1625 1461.5C1628.9 1465.4 1636.1 1472.9 1640 1476.5C1643.9 1480.1 1651.1 1486.1 1655 1489C1658.9 1491.9 1666.8 1496.7 1670 1499C1673.2 1501.3 1677.1 1505.4 1680 1506.5C1682.9 1507.6 1688.9 1506.8 1692.5 1507.8C1696.1 1508.7 1703.9 1512.7 1707.5 1514C1711.1 1515.3 1716.4 1516.9 1720 1517.8C1723.6 1518.6 1728.9 1519.9 1735 1520.2C1741.5 1520.7 1764.8 1521.2 1770 1521C1772.2 1520.9 1772.8 1518.9 1775 1519C1777.3 1519.1 1783 1521.5 1787.5 1522C1792 1522.5 1805.8 1522.3 1810 1522.8C1814.1 1523.2 1816.8 1524.8 1820 1525.2C1823.2 1525.7 1831.1 1525.7 1835 1526.5C1838.9 1527.3 1845.8 1530.2 1850 1531.5C1854.2 1532.8 1863.3 1535 1867.5 1536.5C1871.7 1538 1878.9 1541.3 1882.5 1542.8C1886.1 1544.2 1891.4 1546.3 1895 1547.8C1898.6 1549.2 1906.4 1552.5 1910 1554C1913.6 1555.5 1919.2 1557.9 1922.5 1559C1925.8 1560.1 1931.4 1561.8 1935 1562.8C1938.6 1563.7 1946.1 1565.5 1950 1566.5C1953.9 1567.5 1961.1 1569.5 1965 1570.2C1968.9 1571 1976.2 1572 1980 1572.5C1983.8 1573 1990.6 1573.5 1994 1574C1997.4 1574.5 2001.4 1576 2006.5 1576C2061.6 1576.3 2363.7 1576.4 2418 1576.5C2420.4 1576.5 2423.2 1576.5 2424 1576.5"/>
<path stroke="#008000" d="M320 124.5C320.5 125.2 322.8 128.2 324 129.8C325.2 131.4 327.4 134.7 329 136.7C330.6 138.7 334.1 143.3 336 145.5C337.9 147.7 341.8 151.6 343.6 153.4C345.4 155.2 348.1 157.4 350 159C351.9 160.6 356.1 163.8 358 165.4C359.9 167 363.3 169.9 365 171.5C366.7 173.1 369.6 176 371 178C372.4 180 374.9 184.4 376 187C377.1 189.6 378.8 194.5 379.5 198C380.2 201.5 380.6 208.9 381.3 214C382 219.1 384 230.2 385 237.5C386 244.8 387.8 261.9 388.8 270C389.7 278.1 391.6 291.9 392.5 300C393.4 308.1 395 323.4 396 332.5C397 341.6 399.1 361.2 400 370C400.9 378.8 402.5 394.4 403 400C403.4 405.2 403.1 407.8 403.5 413C403.9 418.6 405.2 433.9 406.2 443C407.3 452.1 409.9 472.6 411.2 483C412.6 493.4 415.1 514.5 416.2 523C417.4 531.5 418.5 541.2 420 548C421.5 554.8 425.9 568.4 427.5 575.5C429.1 582.6 431.2 594.9 432.5 603C433.8 611.1 436.2 628.6 437.5 638C438.8 647.4 441.4 665.8 442.5 675.5C443.6 685.2 445.3 703.6 446.2 713C447.2 722.4 449 738.9 450 748C451 757.1 452.8 772.9 453.8 783C454.7 793.1 456.4 816.2 457.5 826C458.6 835.8 461.2 849.1 462.5 858.5C463.8 867.9 465.9 889.4 467.5 898.5C469.1 907.6 473.4 920.4 475 928.5C476.6 936.6 478.4 952.9 480 961C481.6 969.1 485.4 984.5 487.5 991C489.6 997.5 494.3 1006.1 496.2 1011C498.2 1015.9 500.4 1024.3 502.5 1028.5C504.6 1032.7 510.2 1039.6 512.5 1043.5C514.8 1047.4 517.7 1053.5 520 1058.5C522.3 1063.5 527.2 1078.8 530 1082C532.8 1085.2 539 1082.3 541.2 1083.5C543.5 1084.7 545.4 1088.7 547.5 1091C549.6 1093.3 554.2 1097.8 557.5 1101C560.8 1104.2 569.2 1113.6 572.5 1116C575.8 1118.4 579.6 1117.8 582.5 1119.8C585.4 1121.7 591.8 1128.1 595 1131C598.2 1133.9 603.9 1140.3 607.5 1142.2C611.1 1144.2 618.8 1144.9 622.5 1146C626.2 1147.1 632.7 1148.7 636.2 1151C639.8 1153.3 646.3 1160.2 650 1163.5C653.7 1166.8 660.5 1174.4 665 1176C669.5 1177.6 681.8 1175.7 685 1176C687.1 1176.2 687.9 1177.8 690 1178C692.6 1178.3 701.1 1178.7 705 1178C708.9 1177.3 716.3 1172.4 720 1173C723.7 1173.6 730.8 1178.6 733.8 1182.2C736.7 1185.9 740.1 1196.3 742.5 1201C744.9 1205.7 749.9 1214.9 752.5 1218.5C755.1 1222.1 759.6 1226.2 762.5 1228.5C765.4 1230.8 772.9 1234.6 775 1236C776.6 1237 777.8 1237.3 778.8 1239C780.4 1242 785.2 1253.5 787.5 1259C789.8 1264.5 794 1275.7 796.2 1281.5C798.5 1287.3 802.6 1298.5 805 1304C807.4 1309.5 812.4 1319.9 815 1324C817.6 1328.1 822.1 1333 825 1335.2C827.9 1337.5 834.2 1340.8 837.5 1341.5C840.8 1342.2 847.1 1340.7 850 1340.2C852.9 1339.8 856.8 1339 860 1337.8C863.2 1336.5 870.8 1333 875 1330.2C879.2 1327.5 888 1320.6 892.5 1316.5C897 1312.4 905.8 1303.5 910 1299C914.2 1294.5 921.1 1286.7 925 1281.5C928.9 1276.3 935.9 1264.5 940 1259C944.1 1253.5 952.4 1244.6 956.2 1239C960.1 1233.4 965.6 1222.6 970 1216C974.4 1209.4 984.5 1195.3 990 1188.5C995.5 1181.7 1006.6 1169.5 1012.5 1163.5C1018.4 1157.5 1029.2 1147.1 1035 1142.2C1040.8 1137.4 1051.7 1129.7 1057.5 1126C1063.3 1122.3 1074.2 1116.4 1080 1113.5C1085.8 1110.6 1096.7 1105.8 1102.5 1103.5C1108.3 1101.2 1120.8 1097.7 1125 1096C1129.2 1094.3 1131.1 1092.1 1135 1090.5C1138.9 1088.9 1150.8 1085.4 1155 1083.5C1159.2 1081.6 1162.6 1079.2 1167.5 1076C1172.4 1072.8 1187.6 1062.4 1192.5 1058.5C1197.4 1054.6 1201.4 1049.2 1205 1046C1208.6 1042.8 1216.1 1036.4 1220 1033.5C1223.9 1030.6 1230.5 1027.1 1235 1023.5C1239.5 1019.9 1250.1 1009.6 1255 1006C1259.9 1002.4 1268 998.7 1272.5 996C1277 993.3 1286.4 986.7 1290 985C1293.6 983.3 1297.4 983 1300 982.6C1302.6 982.2 1307.4 981.8 1310 981.7C1312.6 981.6 1317.4 981.6 1320 981.9C1322.6 982.2 1327.4 983.3 1330 984C1332.6 984.7 1337.3 986.5 1340 987.5C1342.7 988.5 1347.8 990.1 1351 991.8C1354.2 993.5 1360.9 997.4 1365 1000.5C1369.1 1003.6 1378.3 1011.7 1382.5 1016C1386.7 1020.3 1393.9 1028.3 1397.5 1033.5C1401.1 1038.7 1407.1 1050.5 1410 1056C1412.9 1061.5 1417.4 1070.8 1420 1076C1422.6 1081.2 1427.4 1090.8 1430 1096C1432.6 1101.2 1437.4 1109.8 1440 1116C1442.6 1122.2 1447.4 1136.3 1450 1143.5C1452.6 1150.7 1457.4 1164.5 1460 1171C1462.6 1177.5 1467.1 1187.3 1470 1193.5C1472.9 1199.7 1479.6 1212.6 1482.5 1218.5C1485.4 1224.4 1489.6 1233.4 1492.5 1239C1495.4 1244.6 1501.8 1255.7 1505 1261.5C1508.2 1267.3 1514.9 1279.1 1517.5 1284C1520.1 1288.9 1523.5 1293.8 1525 1299C1526.5 1304.2 1527.5 1319.6 1528.8 1324C1530 1328.1 1532.9 1332.1 1535 1332.8C1537.1 1333.4 1542.4 1327.5 1545 1329C1547.6 1330.5 1552.1 1339.5 1555 1344C1557.9 1348.5 1564.2 1359.5 1567.5 1364C1570.8 1368.5 1576.4 1374.1 1580 1379C1583.6 1383.9 1591.1 1396.3 1595 1401.5C1598.9 1406.7 1605.8 1414.1 1610 1419C1614.2 1423.9 1623 1434.1 1627.5 1439C1632 1443.9 1640.5 1452.3 1645 1456.5C1649.5 1460.7 1658 1467.9 1662.5 1471.5C1667 1475.1 1675.5 1481.1 1680 1484C1684.5 1486.9 1693 1491.7 1697.5 1494C1702 1496.3 1710.1 1500 1715 1501.5C1719.9 1503 1730.5 1504.7 1735 1505.2C1739.5 1505.8 1746.4 1505.5 1750 1506C1753.6 1506.5 1758 1508.6 1762.5 1509C1767 1509.4 1780.1 1508.7 1785 1509C1789.9 1509.3 1796.1 1510.7 1800 1511C1803.9 1511.3 1811.1 1510.9 1815 1511.5C1818.9 1512.1 1825.8 1514.4 1830 1515.2C1834.2 1516.1 1843.6 1516.8 1847.5 1517.8C1851.4 1518.7 1856.4 1521 1860 1522.8C1863.6 1524.5 1871.1 1529.7 1875 1531.5C1878.9 1533.3 1886.4 1535 1890 1536.5C1893.6 1538 1899.2 1541.3 1902.5 1542.8C1905.8 1544.2 1911.6 1546.3 1915 1547.8C1918.4 1549.2 1925.2 1552.9 1929 1554C1932.8 1555.1 1940.4 1555.7 1944 1556.5C1947.6 1557.3 1953.2 1559.1 1956.5 1560.2C1959.8 1561.4 1964.1 1564.3 1969 1565.2C1973.9 1566.2 1989.8 1566.9 1994 1567.5C1997.1 1568 1998.4 1569.6 2001.5 1570C2004.8 1570.4 2015.8 1570.2 2019 1570.5C2022.1 1570.8 2024.2 1572.6 2026.5 1572.5C2028.8 1572.4 2033.6 1569.7 2036.5 1569.5C2039.4 1569.3 2046.1 1570.9 2049 1571.2C2051.9 1571.6 2056.4 1572.3 2059 1572C2061.6 1571.7 2066.4 1568.8 2069 1568.8C2071.6 1568.7 2075.8 1570.8 2079 1571.2C2082.2 1571.7 2090.8 1572.7 2094 1572.5C2097.2 1572.3 2101.4 1569.5 2104 1569.5C2106.6 1569.5 2109.8 1572.3 2114 1572.5C2121.2 1572.8 2152.2 1572.4 2159 1572C2162.2 1571.8 2164.6 1569.4 2166.5 1569.5C2168.4 1569.6 2170.8 1572.4 2174 1572.5C2188.6 1572.9 2264.4 1572.2 2279 1572.5C2282.2 1572.6 2284.6 1574.7 2286.5 1575C2288.4 1575.3 2291.7 1575.3 2294 1575C2296.3 1574.7 2301.4 1572.8 2304 1572.5C2306.6 1572.2 2311.7 1572.1 2314 1572.5C2316.3 1572.9 2319.6 1575.1 2321.5 1575.5C2323.4 1575.9 2327.1 1575.9 2329 1575.5C2330.9 1575.1 2333.9 1572.9 2336.5 1572.5C2339.1 1572.1 2346.4 1572.1 2349 1572.5C2351.6 1572.9 2353.3 1575.2 2356.5 1575.5C2360.1 1575.8 2372.9 1575.4 2376.5 1575C2379.6 1574.7 2381.7 1572.8 2384 1572.5C2386.3 1572.2 2392.1 1572.2 2394 1572.5C2395.9 1572.8 2396.8 1574.5 2399 1574.5C2402.1 1574.6 2414.8 1573.2 2418 1573C2420.4 1572.9 2423.2 1573 2424 1573"/>
</g>
<text transform="translate(134.7 65.2) scale(0.955 1)" font-size="70" text-anchor="start">0.6</text>
<text transform="translate(134.7 321.8) scale(0.955 1)" font-size="70" text-anchor="start">0.5</text>
<text transform="translate(134.7 604.2) scale(0.955 1)" font-size="70" text-anchor="start">0.4</text>
<text transform="translate(134.9 843.2) scale(0.955 1)" font-size="70" text-anchor="start">0.3</text>
<text transform="translate(134.7 1079.2) scale(0.955 1)" font-size="70" text-anchor="start">0.2</text>
<text transform="translate(146.3 1350) scale(0.955 1)" font-size="70" text-anchor="start">0.1</text>
<text transform="translate(153.9 1587.3) scale(0.955 1)" font-size="70" text-anchor="start">0.0</text>
<text transform="translate(320.6 1674.2) scale(1.0 1)" font-size="62" text-anchor="middle">200</text>
<text transform="translate(670.1 1674.2) scale(1.0 1)" font-size="62" text-anchor="middle">300</text>
<text transform="translate(1019.7 1674.2) scale(1.0 1)" font-size="62" text-anchor="middle">400</text>
<text transform="translate(1369.3 1674.2) scale(1.0 1)" font-size="62" text-anchor="middle">500</text>
<text transform="translate(1718.8 1674.2) scale(1.0 1)" font-size="62" text-anchor="middle">600</text>
<text transform="translate(2068.3 1674.2) scale(1.0 1)" font-size="62" text-anchor="middle">700</text>
<text transform="translate(2417.9 1674.2) scale(1.0 1)" font-size="62" text-anchor="middle">800</text>
<text transform="translate(1371 1794.4) scale(0.976 1)" font-size="75.5" text-anchor="middle">Wavelength (nm)</text>
<text transform="translate(75 843.8) rotate(-90) scale(0.957 1)" font-size="79" text-anchor="middle">Absorbance</text>
<rect x="1933" y="79.9" width="448" height="926.5" fill="#000"/>
<rect x="1909.6" y="57.2" width="447.2" height="925.4" fill="#fff" stroke="#000" stroke-width="3.6"/>
<g class="lg">
<path stroke="#000000" d="M1917.5 108.6 H2088"/>
<path stroke="#ff0000" d="M1917.5 201 H2088"/>
<path stroke="#0000ff" d="M1917.5 293.4 H2088"/>
<path stroke="#008080" d="M1917.5 385.8 H2088"/>
<path stroke="#ff00ff" d="M1917.5 478.2 H2088"/>
<path stroke="#808000" d="M1917.5 570.6 H2088"/>
<path stroke="#000080" d="M1917.5 663 H2088"/>
<path stroke="#960000" d="M1917.5 755.4 H2088"/>
<path stroke="#ff0080" d="M1917.5 847.8 H2088"/>
<path stroke="#008000" d="M1917.5 940.2 H2088"/>
</g>
<text transform="translate(2110 132.7) scale(0.935 1)" font-size="79" text-anchor="start">120 min</text>
<text transform="translate(2108 225.1) scale(0.945 1)" font-size="79" text-anchor="start">90 min</text>
<text transform="translate(2108 317.5) scale(0.945 1)" font-size="79" text-anchor="start">60 min</text>
<text transform="translate(2108 409.9) scale(0.945 1)" font-size="79" text-anchor="start">45 min</text>
<text transform="translate(2108 502.3) scale(0.945 1)" font-size="79" text-anchor="start">30 min</text>
<text transform="translate(2110 594.7) scale(0.935 1)" font-size="79" text-anchor="start">15 min</text>
<text transform="translate(2110 687.1) scale(0.935 1)" font-size="79" text-anchor="start">10 min</text>
<text transform="translate(2108 779.5) scale(0.945 1)" font-size="79" text-anchor="start">5 min</text>
<text transform="translate(2108 871.9) scale(0.945 1)" font-size="79" text-anchor="start">2 min</text>
<text transform="translate(2108 964.3) scale(0.945 1)" font-size="79" text-anchor="start">0 min</text>
<text transform="translate(1456.8 787.1) scale(0.955 1)" font-size="79" text-anchor="start">0min</text>
<text transform="translate(1661.5 1173.5) scale(0.925 1)" font-size="79" text-anchor="start">120 min</text>
<path d="M1506.3 809.8 L1385.7 927.6" stroke="#ff0000" stroke-width="13" stroke-linecap="round" fill="none"/><path d="M1346.7 965.7 L1378.3 914.3 L1398.9 935.3 Z" fill="#ff0000" stroke="#ff0000" stroke-width="11" stroke-linejoin="round"/>
<path d="M1695.3 1213 L1381.5 1518.6" stroke="#ff0000" stroke-width="13" stroke-linecap="round" fill="none"/><path d="M1342.4 1556.7 L1374.1 1505.3 L1394.6 1526.4 Z" fill="#ff0000" stroke="#ff0000" stroke-width="11" stroke-linejoin="round"/>
</svg>
</body></html>
